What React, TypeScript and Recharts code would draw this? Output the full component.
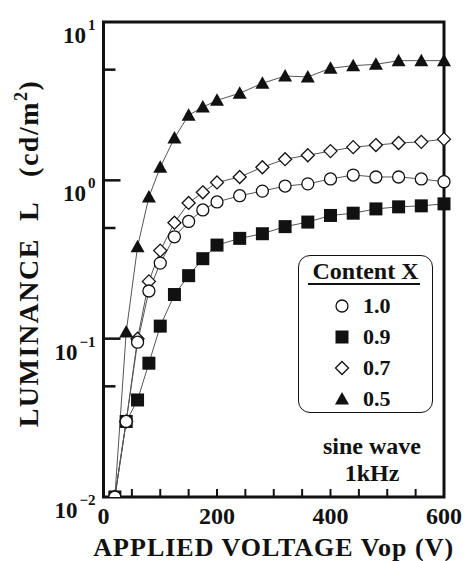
import React from "react";
import { LineChart, Line, XAxis, YAxis, ReferenceArea, Legend } from "recharts";

// applied voltage (V)
const volts = [20, 40, 60, 80, 100, 125, 150, 175, 200, 240, 280, 320, 360, 400, 440, 480, 520, 560, 600];
// luminance (cd/m2) per content X
const x10 = [0.01, 0.03, 0.095, 0.2, 0.3, 0.44, 0.55, 0.65, 0.73, 0.8, 0.855, 0.92, 0.95, 1.02, 1.08, 1.05, 1.05, 1.02, 0.98];
const x09 = [0.01, 0.03, 0.041, 0.07, 0.12, 0.19, 0.25, 0.32, 0.39, 0.43, 0.46, 0.51, 0.545, 0.6, 0.62, 0.66, 0.68, 0.69, 0.71];
const x07 = [0.01, 0.03, 0.1, 0.23, 0.36, 0.54, 0.72, 0.84, 0.97, 1.05, 1.21, 1.36, 1.44, 1.53, 1.62, 1.67, 1.72, 1.75, 1.82];
const x05 = [0.01, 0.11, 0.38, 0.785, 1.21, 1.85, 2.58, 2.9, 3.2, 3.55, 4.1, 4.56, 4.5, 5.1, 5.3, 5.4, 5.7, 5.7, 5.7];

const xTicks = [0, 50, 100, 150, 200, 250, 300, 350, 400, 450, 500, 550, 600];
const xLabels = [0, 200, 400, 600];
const yTicks = [0.01, 0.05, 0.1, 0.5, 1, 5, 10];
const yMajor = [0.01, 0.1, 1, 10];
const yExp = ["\u22122", "\u22121", "0", "1"];

const legendNames = ["1.0", "0.9", "0.7", "0.5"];
const legendShapes = ["circle", "square", "diamond", "triangle"];
const noteLines = ["sine wave", "1kHz"];

const data = volts.map((v, i) => ({ v, x10: x10[i], x09: x09[i], x07: x07[i], x05: x05[i] }));

const FONT = "'Liberation Serif', 'Times New Roman', serif";
const INK = "#111";

const Marker = ({ kind, cx, cy }: any) => {
  if (cx == null || cy == null) return null;
  if (kind === "circle")
    return <circle cx={cx} cy={cy} r={6} fill="#fff" stroke={INK} strokeWidth={1.3} />;
  if (kind === "square")
    return <rect x={cx - 6.5} y={cy - 6.5} width={13} height={13} fill={INK} />;
  if (kind === "diamond")
    return (
      <polygon
        points={`${cx},${cy - 6.5} ${cx + 6.5},${cy} ${cx},${cy + 6.5} ${cx - 6.5},${cy}`}
        fill="#fff"
        stroke={INK}
        strokeWidth={1.3}
      />
    );
  return <polygon points={`${cx},${cy - 7} ${cx + 7},${cy + 5.5} ${cx - 7},${cy + 5.5}`} fill={INK} />;
};

const XTick = ({ x, y, payload }: any) => {
  const v = payload.value;
  return (
    <g>
      {v !== 0 && v !== 600 && <line x1={x} y1={y} x2={x} y2={y - 8} stroke={INK} strokeWidth={2} />}
      {xLabels.includes(v) && (
        <text x={x} y={y + 27} textAnchor="middle" fontFamily={FONT} fontWeight="bold" fontSize={24} fill={INK}>
          {v}
        </text>
      )}
    </g>
  );
};

const YTick = ({ x, y, payload }: any) => {
  const v = payload.value;
  const idx = yMajor.indexOf(v);
  const len = idx >= 0 ? 17 : 12;
  return (
    <g>
      {v !== 0.01 && v !== 10 && <line x1={x} y1={y} x2={x + len} y2={y} stroke={INK} strokeWidth={2.5} />}
      {idx >= 0 && (
        <text x={x - 8} y={y + 21} textAnchor="end" fontFamily={FONT} fontWeight="bold" fontSize={23} fill={INK}>
          <tspan>10</tspan>
          <tspan dx={2} dy={-13} fontSize={15}>
            {yExp[idx]}
          </tspan>
        </text>
      )}
    </g>
  );
};

const XTitle = ({ viewBox }: any) => {
  const cx = viewBox ? viewBox.x + viewBox.width / 2 : 274;
  const top = viewBox ? viewBox.y : 497;
  return (
    <text
      x={cx}
      y={top + 59}
      textAnchor="middle"
      fontFamily={FONT}
      fontWeight="bold"
      fontSize={26}
      letterSpacing={1}
      fill={INK}
    >
      APPLIED VOLTAGE Vop (V)
    </text>
  );
};

const YTitle = ({ viewBox }: any) => {
  const cy = viewBox ? viewBox.y + viewBox.height / 2 - 6 : 254;
  const bx = 38;
  return (
    <text
      x={bx}
      y={cy}
      transform={`rotate(-90, ${bx}, ${cy})`}
      textAnchor="middle"
      fontFamily={FONT}
      fontWeight="bold"
      fontSize={28}
      letterSpacing={1.5}
      fill={INK}
      style={{ whiteSpace: "pre" }}
    >
      <tspan>{"LUMINANCE  L   (cd/m"}</tspan>
      <tspan dy={-11} fontSize={18}>2</tspan>
      <tspan dy={11}>)</tspan>
    </text>
  );
};

const LegendBox = () => (
  <div
    style={{
      position: "relative",
      width: 135,
      height: 158,
      border: `1.5px solid ${INK}`,
      borderRadius: 12,
      boxSizing: "border-box",
      background: "#fff",
      fontFamily: FONT,
      fontWeight: "bold",
      color: INK,
    }}
  >
    <div style={{ position: "absolute", left: 0, width: 133, top: 1, textAlign: "center", fontSize: 24, lineHeight: "28px" }}>
      Content X
    </div>
    <div style={{ position: "absolute", left: 9, width: 112, top: 27, borderTop: `2px solid ${INK}` }} />
    {legendNames.map((name, i) => (
      <div key={name} style={{ position: "absolute", left: 0, top: 36 + i * 31, height: 28, width: 133 }}>
        <svg width={30} height={28} style={{ position: "absolute", left: 29, top: 0 }}>
          <Marker kind={legendShapes[i]} cx={14} cy={14} />
        </svg>
        <span style={{ position: "absolute", left: 64, top: 0, fontSize: 22, lineHeight: "28px" }}>{name}</span>
      </div>
    ))}
  </div>
);

export default function App() {
  return (
    <div style={{ position: "absolute", left: 0, top: 0, width: 470, height: 561, background: "#fff" }}>
      <LineChart width={470} height={561} data={data} margin={{ top: 22, right: 26, bottom: 14, left: 43.5 }}>
        <XAxis
          dataKey="v"
          type="number"
          domain={[0, 600]}
          ticks={xTicks}
          interval={0}
          tick={<XTick />}
          tickLine={false}
          axisLine={false}
          tickSize={0}
          tickMargin={0}
          height={50}
          label={<XTitle />}
        />
        <YAxis
          type="number"
          scale="log"
          domain={[0.01, 10]}
          allowDataOverflow
          ticks={yTicks}
          interval={0}
          tick={<YTick />}
          tickLine={false}
          axisLine={false}
          tickSize={0}
          tickMargin={0}
          width={60}
          label={<YTitle />}
        />
        <ReferenceArea
          x1={0}
          x2={600}
          y1={0.01}
          y2={10}
          fill="none"
          fillOpacity={0}
          stroke={INK}
          strokeWidth={3}
          ifOverflow="visible"
        />
        <Line
          dataKey="x05"
          name="0.5"
          stroke="#555"
          strokeWidth={1}
          isAnimationActive={false}
          activeDot={false}
          dot={(p: any) => <Marker key={`t${p.index}`} kind="triangle" cx={p.cx} cy={p.cy} />}
        />
        <Line
          dataKey="x09"
          name="0.9"
          stroke="#555"
          strokeWidth={1}
          isAnimationActive={false}
          activeDot={false}
          dot={(p: any) => <Marker key={`s${p.index}`} kind="square" cx={p.cx} cy={p.cy} />}
        />
        <Line
          dataKey="x07"
          name="0.7"
          stroke="#555"
          strokeWidth={1}
          isAnimationActive={false}
          activeDot={false}
          dot={(p: any) => <Marker key={`d${p.index}`} kind="diamond" cx={p.cx} cy={p.cy} />}
        />
        <Line
          dataKey="x10"
          name="1.0"
          stroke="#555"
          strokeWidth={1}
          isAnimationActive={false}
          activeDot={false}
          dot={(p: any) => <Marker key={`c${p.index}`} kind="circle" cx={p.cx} cy={p.cy} />}
        />
        <Legend
          layout="horizontal"
          align="center"
          verticalAlign="middle"
          content={<LegendBox />}
          wrapperStyle={{ left: 298, top: 255, width: 135, height: 158 }}
        />
      </LineChart>
      {noteLines.map((t, i) => (
        <div
          key={t}
          style={{
            position: "absolute",
            left: 297,
            top: 433 + i * 27,
            width: 150,
            textAlign: "center",
            fontFamily: FONT,
            fontWeight: "bold",
            fontSize: 24,
            lineHeight: "26px",
            color: INK,
          }}
        >
          {t}
        </div>
      ))}
    </div>
  );
}
